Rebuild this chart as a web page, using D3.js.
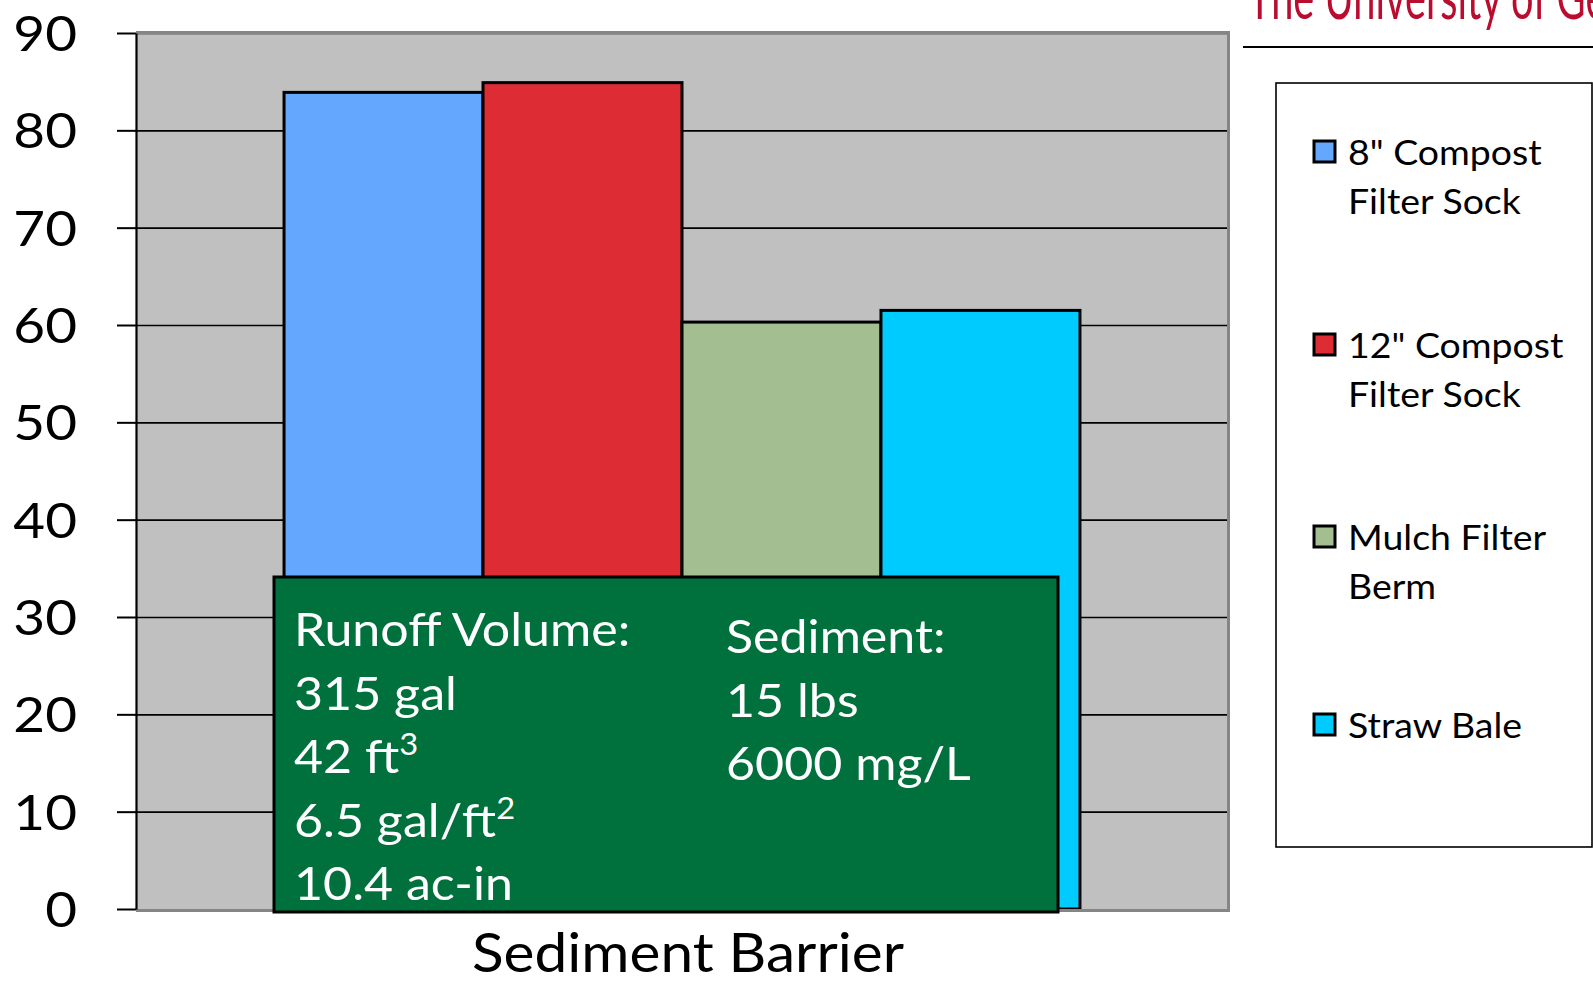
<!DOCTYPE html>
<html>
<head>
<meta charset="utf-8">
<script src="https://cdn.jsdelivr.net/npm/d3@7"></script>
<style>
  html, body { margin: 0; padding: 0; background: #fff; }
  svg { display: block; }
  text { font-family: Lato, "Open Sans", sans-serif; }
</style>
</head>
<body>
<svg id="chart" width="1593" height="983"></svg>
<script>
// ---- data ----
const categories = ["Sediment Barrier"];
const seriesNames = ["8\" Compost Filter Sock", "12\" Compost Filter Sock", "Mulch Filter Berm", "Straw Bale"];
const legendLines = [["8\" Compost", "Filter Sock"], ["12\" Compost", "Filter Sock"], ["Mulch Filter", "Berm"], ["Straw Bale"]];
const seriesValues = [83.9, 84.9, 60.3, 61.5];
const seriesColors = ["#63A8FE", "#DD2C34", "#A3BF91", "#00CBFF"];
const yTicks = [0, 10, 20, 30, 40, 50, 60, 70, 80, 90];
const runoffLines = ["Runoff Volume:", "315 gal", "42 ft|3", "6.5 gal/ft|2", "10.4 ac-in"];
const sedimentLines = ["Sediment:", "15 lbs", "6000 mg/L"];

// ---- layout ----
const svg = d3.select("#chart");
const plot = { left: 136, right: 1228, top: 33, bottom: 909 };

const y = d3.scaleLinear().domain([0, 90]).range([plot.bottom, plot.top]);
const x0 = d3.scaleBand().domain(categories).range([plot.left, plot.right])
  .paddingInner(0).paddingOuter(0.186);
const x1 = d3.scaleBand().domain(seriesNames).range([0, x0.bandwidth()]).padding(0);

// plot background
svg.append("rect")
  .attr("x", plot.left).attr("y", plot.top)
  .attr("width", plot.right - plot.left).attr("height", plot.bottom - plot.top)
  .attr("fill", "#C0C0C0");

// gridlines
svg.append("g")
  .attr("transform", `translate(${plot.left},0)`)
  .call(d3.axisLeft(y).tickValues(yTicks.slice(1)).tickSize(-(plot.right - plot.left)).tickFormat(""))
  .call(g => g.select(".domain").remove())
  .call(g => g.selectAll("line").attr("stroke", "#000").attr("stroke-width", 1.6));

// bars
const grp = svg.append("g").selectAll("g").data(categories).join("g")
  .attr("transform", d => `translate(${x0(d)},0)`);
grp.selectAll("rect")
  .data(seriesNames.map((s, i) => ({ s, v: seriesValues[i], c: seriesColors[i] })))
  .join("rect")
  .attr("x", d => x1(d.s))
  .attr("y", d => y(d.v))
  .attr("width", x1.bandwidth())
  .attr("height", d => y(0) - y(d.v))
  .attr("fill", d => d.c)
  .attr("stroke", "#000")
  .attr("stroke-width", 3);

// plot frame (gray shadow border)
svg.append("path")
  .attr("d", `M${plot.left},${plot.top - 0.5} H${plot.right + 0.5} V${plot.bottom + 1.5} H${plot.left}`)
  .attr("fill", "none").attr("stroke", "#858585").attr("stroke-width", 3);

// y axis
svg.append("g")
  .attr("transform", `translate(${plot.left},0)`)
  .call(d3.axisLeft(y).tickValues(yTicks).tickSize(19).tickPadding(43).tickSizeOuter(0))
  .call(g => g.select(".domain").attr("stroke", "#000").attr("stroke-width", 2.2))
  .call(g => g.selectAll(".tick line").attr("stroke", "#000").attr("stroke-width", 2))
  .call(g => g.selectAll(".tick text")
    .attr("font-family", "Lato, sans-serif").attr("font-size", 49).attr("fill", "#000")
    .attr("x", 0).attr("dy", "0.36em")
    .attr("transform", "translate(-59,0) scale(1.12,1)"));

// x axis title
svg.append("text")
  .attr("x", x0("Sediment Barrier") + x0.bandwidth() / 2 + 6)
  .attr("y", 972)
  .attr("text-anchor", "middle")
  .attr("font-size", 55)
  .attr("fill", "#000")
  .attr("textLength", 432)
  .attr("lengthAdjust", "spacingAndGlyphs")
  .text(categories[0]);

// annotation box
const box = { x: 274, y: 577, w: 784, h: 335 };
svg.append("rect")
  .attr("x", box.x).attr("y", box.y).attr("width", box.w).attr("height", box.h)
  .attr("fill", "#00703C").attr("stroke", "#000").attr("stroke-width", 3);

function writeLines(lines, xPos, y0, step) {
  lines.forEach((ln, i) => {
    const t = svg.append("text")
      .attr("transform", `translate(${xPos},${y0 + i * step}) scale(1.09,1)`)
      .attr("font-size", 46).attr("fill", "#fff");
    const parts = ln.split("|");
    t.append("tspan").text(parts[0]);
    if (parts[1]) {
      t.append("tspan").attr("font-size", 30).attr("dy", -18).text(parts[1]);
    }
  });
}
writeLines(runoffLines, 294, 646, 63.5);
writeLines(sedimentLines, 726, 653, 63.5);

// legend
svg.append("rect")
  .attr("x", 1276).attr("y", 83).attr("width", 316).attr("height", 764)
  .attr("fill", "#fff").attr("stroke", "#000").attr("stroke-width", 1.6);

const legendBase = [165, 358, 550, 738];
const lg = svg.append("g").selectAll("g").data(seriesNames).join("g");
lg.append("rect")
  .attr("x", 1314).attr("y", (d, i) => legendBase[i] - 24)
  .attr("width", 21).attr("height", 21)
  .attr("fill", (d, i) => seriesColors[i])
  .attr("stroke", "#000").attr("stroke-width", 3);
lg.each(function (d, i) {
  const g = d3.select(this);
  legendLines[i].forEach((ln, j) => {
    g.append("text")
      .attr("transform", `translate(1348,${legendBase[i] + j * 49}) scale(1.07,1)`)
      .attr("font-size", 35).attr("fill", "#000")
      .text(ln);
  });
});

// logo header (cut off at the top and right, as in the source)
svg.append("text")
  .attr("x", 1248).attr("y", 19)
  .attr("font-family", "'Liberation Serif', 'DejaVu Serif', serif")
  .attr("font-size", 62)
  .attr("fill", "#BA0C2F")
  .attr("textLength", 445)
  .attr("lengthAdjust", "spacingAndGlyphs")
  .text("The University of Georgia");
svg.append("line")
  .attr("x1", 1243).attr("x2", 1593).attr("y1", 47).attr("y2", 47)
  .attr("stroke", "#000").attr("stroke-width", 2);
</script>
</body>
</html>
